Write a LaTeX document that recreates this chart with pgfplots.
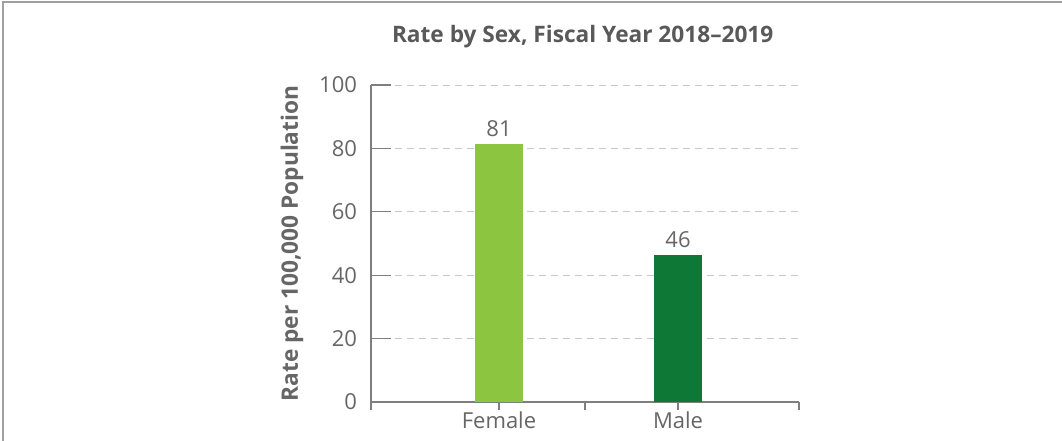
\documentclass[border=0pt]{standalone}
\usepackage{pgfplots}
\pgfplotsset{compat=1.18}
\usepackage{fontspec}
\setmainfont{Open Sans}
\definecolor{txtgray}{HTML}{666666}
\definecolor{titlegray}{HTML}{595959}
\definecolor{axisgray}{HTML}{7F7F7F}
\definecolor{gridgray}{HTML}{C8C8C8}
\definecolor{lightgreen}{HTML}{8CC540}
\definecolor{darkgreen}{HTML}{0E7936}
\definecolor{framegray}{HTML}{A0A0A0}
\begin{document}
\begin{tikzpicture}
\useasboundingbox (0,0) rectangle (796.5pt,330.75pt);
\draw[framegray, line width=1.2pt] (2.25pt,0) -- (2.25pt,329.4pt) -- (796.5pt,329.4pt);
\node[font=\bfseries\fontsize{17}{19}\selectfont, text=titlegray] at (437pt,303pt) {Rate by Sex, Fiscal Year 2018–2019};
\begin{axis}[
  at={(278.25pt,29.25pt)}, anchor=south west,
  scale only axis, width=321pt, height=237.75pt,
  xmin=0, xmax=428, ymin=0, ymax=100,
  axis x line*=bottom, axis y line*=left,
  axis line style={-, draw=axisgray, line width=0.9pt},
  xtick={0,214,428}, xticklabels={},
  tick align=outside, major tick length=6pt,
  xtick style={draw=axisgray, line width=0.9pt},
  ytick={0,20,40,60,80,100},
  ytick style={draw=none},
  ymajorgrids, grid style={gridgray, dashed, dash pattern=on 5pt off 4pt, line width=0.6pt},
  extra x ticks={128,307}, extra x tick labels={Female,Male},
  extra x tick style={tick style={draw=none}, grid=none, xticklabel style={yshift=2pt}},
  /pgf/number format/assume math mode=true,
  tick label style={font=\fontsize{16.5}{18}\selectfont, text=txtgray},
  yticklabel style={xshift=-1pt},
  ylabel={Rate per 100,000 Population},
  ylabel style={at={(axis description cs:-0.1846,0.5)}, anchor=center, rotate=0, font=\bfseries\fontsize{17}{19}\selectfont, text=txtgray},
  ybar, bar width=36pt, bar shift=0pt,
  nodes near coords, point meta=explicit symbolic,
  nodes near coords style={font=\fontsize{16.5}{18}\selectfont, text=txtgray, anchor=south, yshift=2pt},
  clip=false,
]
\pgfplotsinvokeforeach{20,40,60,80,100}{\draw[axisgray, line width=0.9pt] (axis cs:0,#1) -- (axis cs:20,#1);}
\addplot[fill=lightgreen, draw=none] coordinates {(128,81.4) [81]};
\addplot[fill=darkgreen, draw=none] coordinates {(307,46.4) [46]};
\end{axis}
\end{tikzpicture}
\end{document}
